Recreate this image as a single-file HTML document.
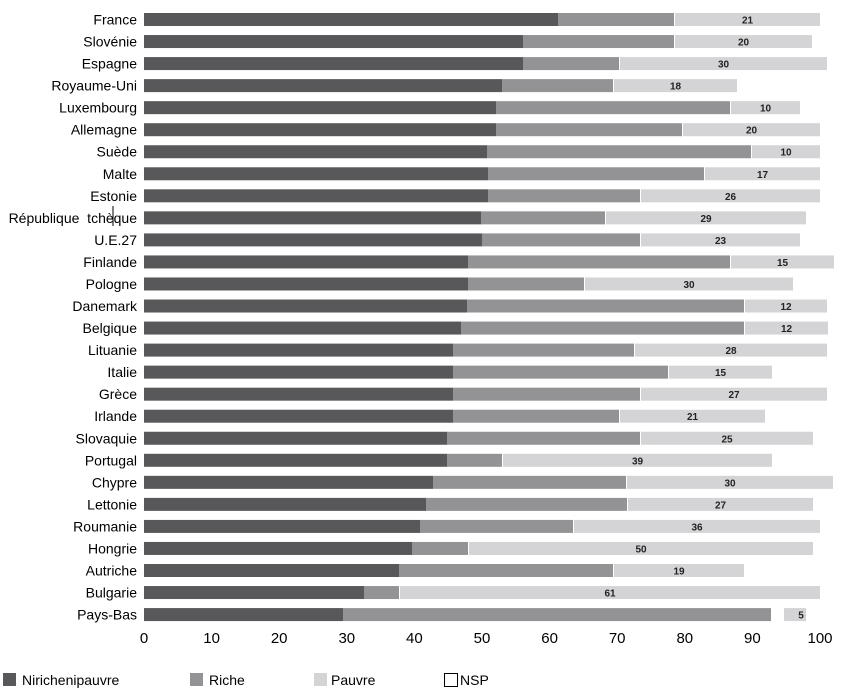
<!DOCTYPE html>
<html><head><meta charset="utf-8"><style>
html,body{margin:0;padding:0;background:#fff}
svg{display:block;font-family:"Liberation Sans",sans-serif}
.l{font-size:14px;text-anchor:end;fill:#000}
.v{font-size:10px;text-anchor:middle;font-weight:bold;fill:#222}
.t{font-size:15px;text-anchor:middle;fill:#000}
.a{fill:#58585a}.b{fill:#939396}.c{fill:#d4d4d6}
</style></head><body>
<svg width="847" height="693" viewBox="0 0 847 693">
<g transform="translate(0,13)"><text class="l" x="137" y="11.5">France</text><rect class="a" x="144" width="414" height="13"/><rect class="b" x="558" width="116" height="13"/><rect class="c" x="675" width="145" height="13"/><text class="v" x="747.5" y="10.5">21</text></g>
<g transform="translate(0,35.04)"><text class="l" x="137" y="11.5">Slovénie</text><rect class="a" x="144" width="379" height="13"/><rect class="b" x="523" width="151" height="13"/><rect class="c" x="675" width="137" height="13"/><text class="v" x="743.5" y="10.5">20</text></g>
<g transform="translate(0,57.08)"><text class="l" x="137" y="11.5">Espagne</text><rect class="a" x="144" width="379" height="13"/><rect class="b" x="523" width="96" height="13"/><rect class="c" x="620" width="207" height="13"/><text class="v" x="723.5" y="10.5">30</text></g>
<g transform="translate(0,79.12)"><text class="l" x="137" y="11.5">Royaume-Uni</text><rect class="a" x="144" width="358" height="13"/><rect class="b" x="502" width="111" height="13"/><rect class="c" x="614" width="123" height="13"/><text class="v" x="675.5" y="10.5">18</text></g>
<g transform="translate(0,101.16)"><text class="l" x="137" y="11.5">Luxembourg</text><rect class="a" x="144" width="352" height="13"/><rect class="b" x="496" width="234" height="13"/><rect class="c" x="731" width="69" height="13"/><text class="v" x="765.5" y="10.5">10</text></g>
<g transform="translate(0,123.2)"><text class="l" x="137" y="11.5">Allemagne</text><rect class="a" x="144" width="352" height="13"/><rect class="b" x="496" width="186" height="13"/><rect class="c" x="683" width="137" height="13"/><text class="v" x="751.5" y="10.5">20</text></g>
<g transform="translate(0,145.24)"><text class="l" x="137" y="11.5">Suède</text><rect class="a" x="144" width="343" height="13"/><rect class="b" x="487" width="264" height="13"/><rect class="c" x="752" width="68" height="13"/><text class="v" x="786" y="10.5">10</text></g>
<g transform="translate(0,167.28)"><text class="l" x="137" y="11.5">Malte</text><rect class="a" x="144" width="344" height="13"/><rect class="b" x="488" width="216" height="13"/><rect class="c" x="705" width="115" height="13"/><text class="v" x="762.5" y="10.5">17</text></g>
<g transform="translate(0,189.32)"><text class="l" x="137" y="11.5">Estonie</text><rect class="a" x="144" width="344" height="13"/><rect class="b" x="488" width="152" height="13"/><rect class="c" x="641" width="179" height="13"/><text class="v" x="730.5" y="10.5">26</text></g>
<g transform="translate(0,211.36)"><text class="l" x="137" y="11.5" xml:space="preserve">République  tchèque</text><rect class="a" x="144" width="337" height="13"/><rect class="b" x="481" width="124" height="13"/><rect class="c" x="606" width="200" height="13"/><text class="v" x="706" y="10.5">29</text></g>
<g transform="translate(0,233.4)"><text class="l" x="137" y="11.5">U.E.27</text><rect class="a" x="144" width="338" height="13"/><rect class="b" x="482" width="158" height="13"/><rect class="c" x="641" width="159" height="13"/><text class="v" x="720.5" y="10.5">23</text></g>
<g transform="translate(0,255.44)"><text class="l" x="137" y="11.5">Finlande</text><rect class="a" x="144" width="324" height="13"/><rect class="b" x="468" width="262" height="13"/><rect class="c" x="731" width="103" height="13"/><text class="v" x="782.5" y="10.5">15</text></g>
<g transform="translate(0,277.48)"><text class="l" x="137" y="11.5">Pologne</text><rect class="a" x="144" width="324" height="13"/><rect class="b" x="468" width="116" height="13"/><rect class="c" x="585" width="208" height="13"/><text class="v" x="689" y="10.5">30</text></g>
<g transform="translate(0,299.52)"><text class="l" x="137" y="11.5">Danemark</text><rect class="a" x="144" width="323" height="13"/><rect class="b" x="467" width="277" height="13"/><rect class="c" x="745" width="82" height="13"/><text class="v" x="786" y="10.5">12</text></g>
<g transform="translate(0,321.56)"><text class="l" x="137" y="11.5">Belgique</text><rect class="a" x="144" width="317" height="13"/><rect class="b" x="461" width="283" height="13"/><rect class="c" x="745" width="83" height="13"/><text class="v" x="786.5" y="10.5">12</text></g>
<g transform="translate(0,343.6)"><text class="l" x="137" y="11.5">Lituanie</text><rect class="a" x="144" width="309" height="13"/><rect class="b" x="453" width="181" height="13"/><rect class="c" x="635" width="192" height="13"/><text class="v" x="731" y="10.5">28</text></g>
<g transform="translate(0,365.64)"><text class="l" x="137" y="11.5">Italie</text><rect class="a" x="144" width="309" height="13"/><rect class="b" x="453" width="215" height="13"/><rect class="c" x="669" width="103" height="13"/><text class="v" x="720.5" y="10.5">15</text></g>
<g transform="translate(0,387.68)"><text class="l" x="137" y="11.5">Grèce</text><rect class="a" x="144" width="309" height="13"/><rect class="b" x="453" width="187" height="13"/><rect class="c" x="641" width="186" height="13"/><text class="v" x="734" y="10.5">27</text></g>
<g transform="translate(0,409.72)"><text class="l" x="137" y="11.5">Irlande</text><rect class="a" x="144" width="309" height="13"/><rect class="b" x="453" width="166" height="13"/><rect class="c" x="620" width="145" height="13"/><text class="v" x="692.5" y="10.5">21</text></g>
<g transform="translate(0,431.76)"><text class="l" x="137" y="11.5">Slovaquie</text><rect class="a" x="144" width="303" height="13"/><rect class="b" x="447" width="193" height="13"/><rect class="c" x="641" width="172" height="13"/><text class="v" x="727" y="10.5">25</text></g>
<g transform="translate(0,453.8)"><text class="l" x="137" y="11.5">Portugal</text><rect class="a" x="144" width="303" height="13"/><rect class="b" x="447" width="55" height="13"/><rect class="c" x="503" width="269" height="13"/><text class="v" x="637.5" y="10.5">39</text></g>
<g transform="translate(0,475.84)"><text class="l" x="137" y="11.5">Chypre</text><rect class="a" x="144" width="289" height="13"/><rect class="b" x="433" width="193" height="13"/><rect class="c" x="627" width="206" height="13"/><text class="v" x="730" y="10.5">30</text></g>
<g transform="translate(0,497.88)"><text class="l" x="137" y="11.5">Lettonie</text><rect class="a" x="144" width="282" height="13"/><rect class="b" x="426" width="201" height="13"/><rect class="c" x="628" width="185" height="13"/><text class="v" x="720.5" y="10.5">27</text></g>
<g transform="translate(0,519.92)"><text class="l" x="137" y="11.5">Roumanie</text><rect class="a" x="144" width="276" height="13"/><rect class="b" x="420" width="153" height="13"/><rect class="c" x="574" width="246" height="13"/><text class="v" x="697" y="10.5">36</text></g>
<g transform="translate(0,541.96)"><text class="l" x="137" y="11.5">Hongrie</text><rect class="a" x="144" width="268" height="13"/><rect class="b" x="412" width="56" height="13"/><rect class="c" x="469" width="344" height="13"/><text class="v" x="641" y="10.5">50</text></g>
<g transform="translate(0,564)"><text class="l" x="137" y="11.5">Autriche</text><rect class="a" x="144" width="255" height="13"/><rect class="b" x="399" width="214" height="13"/><rect class="c" x="614" width="130" height="13"/><text class="v" x="679" y="10.5">19</text></g>
<g transform="translate(0,586.04)"><text class="l" x="137" y="11.5">Bulgarie</text><rect class="a" x="144" width="220" height="13"/><rect class="b" x="364" width="35" height="13"/><rect class="c" x="400" width="420" height="13"/><text class="v" x="610" y="10.5">61</text></g>
<g transform="translate(0,608.08)"><text class="l" x="137" y="11.5">Pays-Bas</text><rect class="a" x="144" width="199" height="13"/><rect class="b" x="343" width="428" height="13"/><rect class="c" x="784" width="22" height="13"/><text class="v" x="801" y="10.5">5</text></g>
<text class="t" x="144" y="643">0</text>
<text class="t" x="211.6" y="643">10</text>
<text class="t" x="279.2" y="643">20</text>
<text class="t" x="346.8" y="643">30</text>
<text class="t" x="414.4" y="643">40</text>
<text class="t" x="482" y="643">50</text>
<text class="t" x="549.6" y="643">60</text>
<text class="t" x="617.2" y="643">70</text>
<text class="t" x="684.8" y="643">80</text>
<text class="t" x="752.4" y="643">90</text>
<text class="t" x="820" y="643">100</text>
<line x1="113" y1="206" x2="113" y2="226" stroke="#000" stroke-width="1"/>
<rect class="a" x="3" y="673" width="13" height="13"/>
<text x="22" y="685" font-size="14">Nirichenipauvre</text>
<rect class="b" x="190" y="673" width="13" height="13"/>
<text x="209" y="685" font-size="14">Riche</text>
<rect class="c" x="314" y="673" width="13" height="13"/>
<text x="331" y="685" font-size="14">Pauvre</text>
<rect x="444.5" y="673.5" width="13" height="13" fill="none" stroke="#000"/>
<text x="460" y="685" font-size="14">NSP</text>
</svg>
</body></html>
